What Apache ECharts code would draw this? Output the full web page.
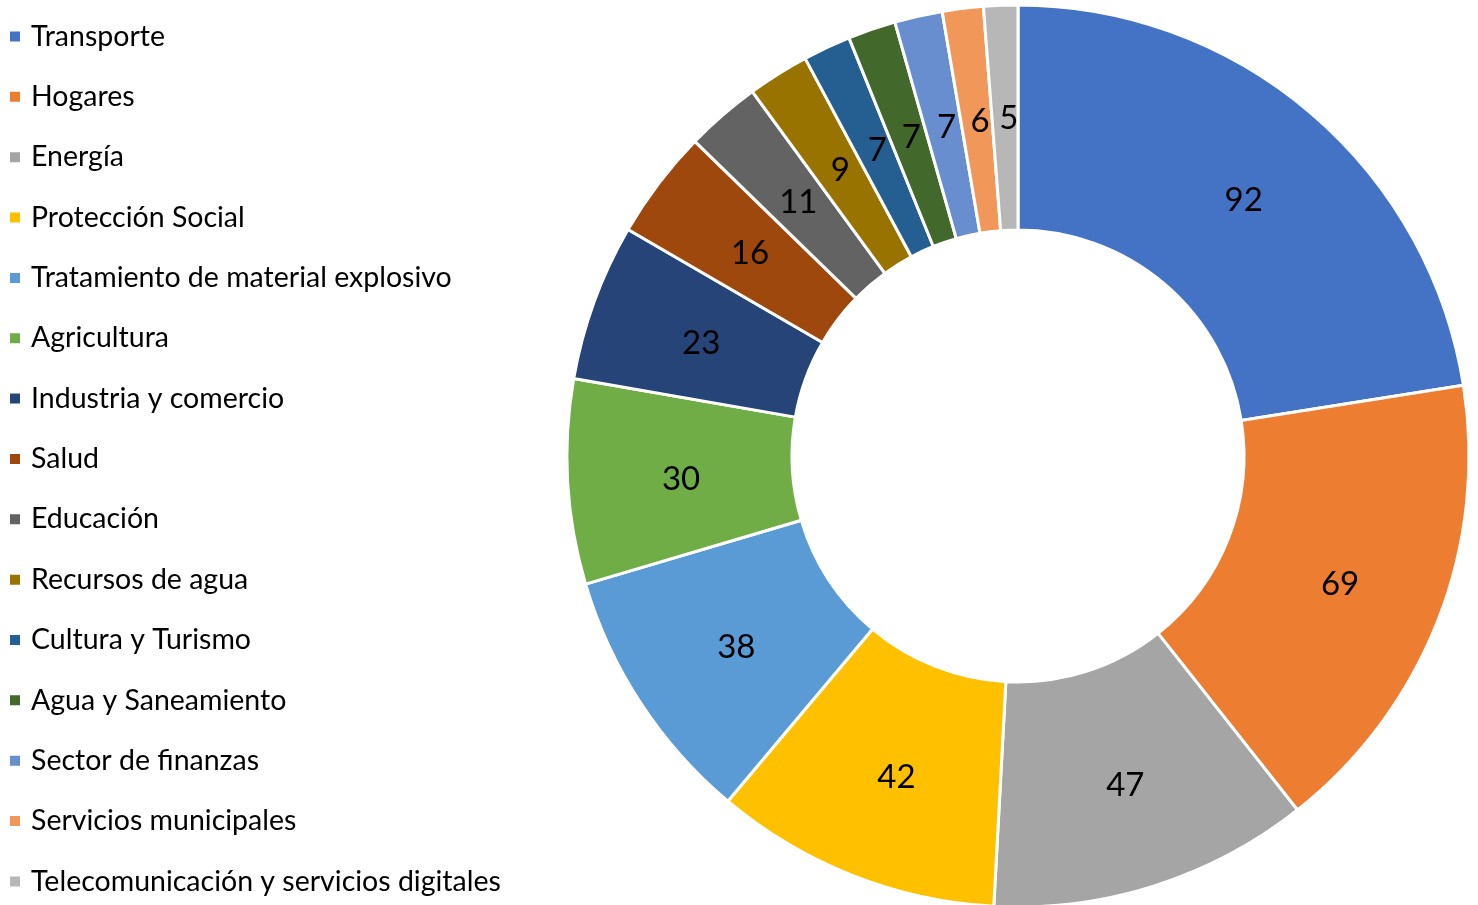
<!DOCTYPE html>
<html><head><meta charset="utf-8">
<script src="https://cdn.jsdelivr.net/npm/echarts@6/dist/echarts.min.js"></script>
<style>html,body{margin:0;padding:0;background:#fff}#c{width:1478px;height:905px}</style>
</head><body><div id="c"></div>
<script>
const categories = ["Transporte","Hogares","Energía","Protección Social","Tratamiento de material explosivo","Agricultura","Industria y comercio","Salud","Educación","Recursos de agua","Cultura y Turismo","Agua y Saneamiento","Sector de finanzas","Servicios municipales","Telecomunicación y servicios digitales"];
const values = [92,69,47,42,38,30,23,16,11,9,7,7,7,6,5];
const colors = ["#4472C4","#ED7D31","#A5A5A5","#FFC000","#5B9BD5","#70AD47","#264478","#9E480E","#636363","#997300","#255E91","#43682B","#698ED0","#F1975A","#B7B7B7"];
const chart = echarts.init(document.getElementById('c'));
chart.setOption({
  animation:false,
  color: colors,
  legend:{
    orient:'vertical', left:8, top:22, height:900, padding:0,
    icon:'rect', itemWidth:12, itemHeight:12, itemGap:31.35,
    textStyle:{fontFamily:'Lato', fontSize:28.5, color:'#000', lineHeight:28.5, padding:[0,0,0,5]},
    data: categories
  },
  series:[{
    type:'pie', center:[1018,456], radius:[226,451],
    startAngle:90, clockwise:true, avoidLabelOverlap:false,
    itemStyle:{borderColor:'#fff', borderWidth:3},
    label:{position:'inside', formatter:'{c}', color:'#000', fontFamily:'Lato', fontSize:33, offset:[4,4]},
    labelLine:{show:false},
    emphasis:{disabled:true},
    data: categories.map((n,i)=>({name:n, value:values[i]}))
  }]
});
</script></body></html>
